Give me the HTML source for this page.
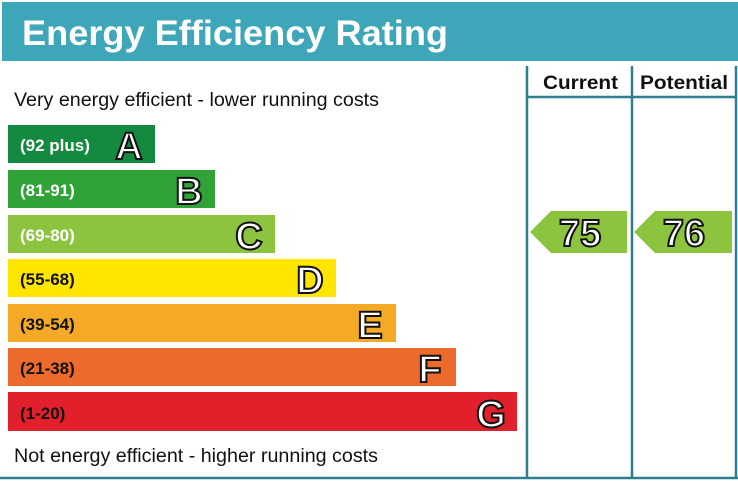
<!DOCTYPE html>
<html><head><style>body{margin:0;background:#fff}svg{display:block}</style></head><body>
<svg width="738" height="483" xmlns="http://www.w3.org/2000/svg" font-family="Liberation Sans, Arial, sans-serif">
<rect x="2" y="2" width="736" height="59" fill="#3ea6b9"/>
<text x="22" y="45" font-size="35" font-weight="bold" fill="#fff" textLength="426" lengthAdjust="spacingAndGlyphs">Energy Efficiency Rating</text>
<g stroke="#2d7f90" stroke-width="2.5" fill="none">
<line x1="527" y1="66" x2="527" y2="478"/>
<line x1="632" y1="66" x2="632" y2="478"/>
<line x1="736" y1="66" x2="736" y2="478"/>
<line x1="527" y1="97" x2="736" y2="97"/>
<line x1="0" y1="478" x2="738" y2="478"/>
</g>
<text x="543" y="89" font-size="19" font-weight="bold" fill="#111" textLength="75" lengthAdjust="spacingAndGlyphs">Current</text>
<text x="640" y="89" font-size="19" font-weight="bold" fill="#111" textLength="88" lengthAdjust="spacingAndGlyphs">Potential</text>
<text x="14" y="106" font-size="19" fill="#111" textLength="365" lengthAdjust="spacingAndGlyphs">Very energy efficient - lower running costs</text>
<text x="14" y="462" font-size="19" fill="#111" textLength="364" lengthAdjust="spacingAndGlyphs">Not energy efficient - higher running costs</text>
<g font-weight="bold">
<rect x="8" y="125" width="147" height="38" fill="#138a3f"/>
<rect x="8" y="170" width="207" height="38" fill="#30a238"/>
<rect x="8" y="215" width="267" height="38" fill="#8dc43f"/>
<rect x="8" y="259" width="328" height="38" fill="#ffe500"/>
<rect x="8" y="304" width="388" height="38" fill="#f4aa27"/>
<rect x="8" y="348" width="448" height="38" fill="#ec6a2c"/>
<rect x="8" y="392" width="509" height="39" fill="#e2202b"/>
<g font-size="17" fill="#fff">
<text x="20" y="151">(92 plus)</text>
<text x="20" y="196">(81-91)</text>
<text x="20" y="241">(69-80)</text>
<text x="20" y="285" fill="#111">(55-68)</text>
<text x="20" y="330" fill="#111">(39-54)</text>
<text x="20" y="374" fill="#111">(21-38)</text>
<text x="20" y="419" fill="#111">(1-20)</text>
</g>
<g font-size="38" fill="#fff" stroke="#111" stroke-width="2" text-anchor="middle">
<text x="129" y="159">A</text>
<text x="189" y="204">B</text>
<text x="249" y="249">C</text>
<text x="310" y="293">D</text>
<text x="370" y="338">E</text>
<text x="430" y="382">F</text>
<text x="491" y="427">G</text>
</g>
<polygon points="530,232 551,211 627,211 627,253 551,253" fill="#8dc43f"/>
<polygon points="634,232 655,211 732,211 732,253 655,253" fill="#8dc43f"/>
<g font-size="38" fill="#fff" stroke="#111" stroke-width="2" text-anchor="middle">
<text x="580" y="246">75</text>
<text x="684" y="246">76</text>
</g>
</g>
</svg>
</body></html>
